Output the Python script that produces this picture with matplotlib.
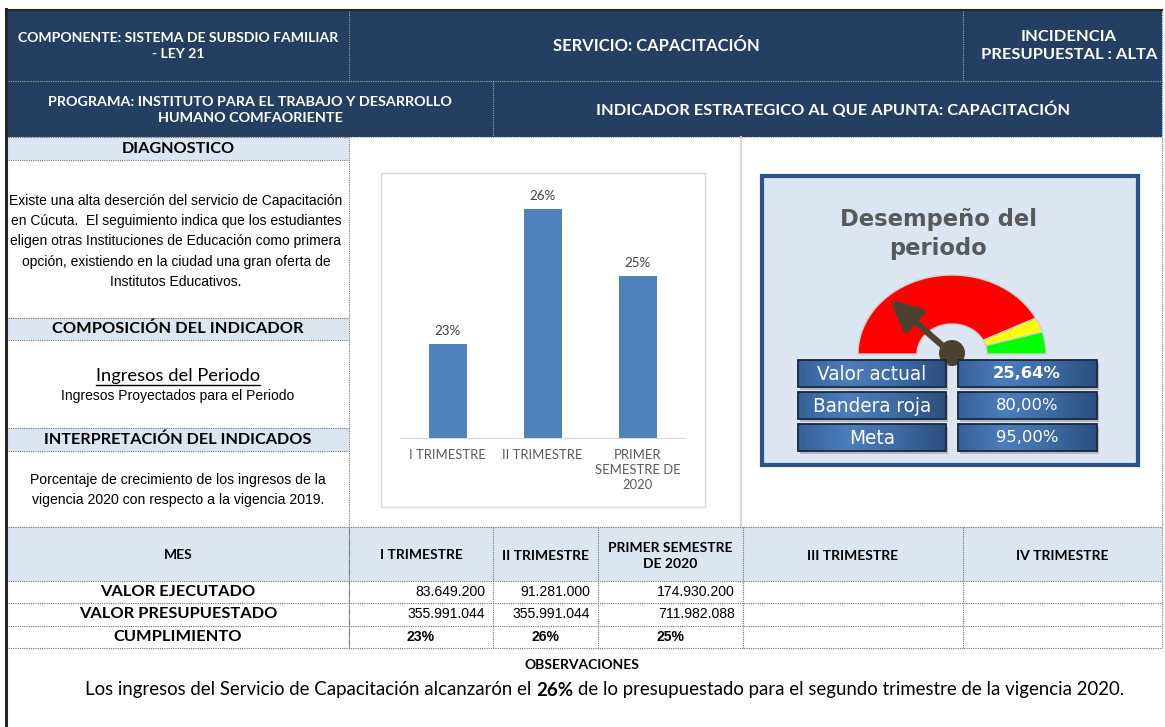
import matplotlib
matplotlib.use("Agg")
import matplotlib.pyplot as plt
import numpy as np
from matplotlib.patches import Rectangle, Polygon, Circle
from matplotlib.colors import LinearSegmentedColormap

W, H = 1165, 727

# ---- data read from the sheet ----
periodos = ["I TRIMESTRE", "II TRIMESTRE", "PRIMER SEMESTRE\nDE 2020", "III TRIMESTRE", "IV TRIMESTRE"]
bar_labels = ["I TRIMESTRE", "II TRIMESTRE", "PRIMER\nSEMESTRE DE\n2020"]
valor_ejecutado = [83649200, 91281000, 174930200]
valor_presupuestado = [355991044, 355991044, 711982088]
cumplimiento = [0.23498, 0.25641, 0.24570]

valor_actual = 0.2564
bandera_roja = 0.80
meta = 0.95
gauge_edges = [0.0, 0.85, 0.91, 1.0]
gauge_colors = ["#FF0000", "#FFFF00", "#00FF00"]

diagnostico = [
    "Existe una alta deserción del servicio de Capacitación",
    "en Cúcuta.  El seguimiento indica que los estudiantes",
    "eligen otras Instituciones de Educación como primera",
    "opción, existiendo en la ciudad una gran oferta de",
    "Institutos Educativos.",
]
interpretacion = [
    "Porcentaje de crecimiento de los ingresos de la",
    "vigencia 2020 con respecto a la vigencia 2019.",
]

NAVY = "#243F61"
LIGHT = "#DCE6F1"
CAL = "Lato"
ARIAL = "Liberation Sans"

fig = plt.figure(figsize=(W / 100, H / 100), dpi=100)
ax = fig.add_axes([0, 0, 1, 1])
ax.set_xlim(0, W)
ax.set_ylim(H, 0)
ax.axis("off")
R = fig.canvas.get_renderer()


def fit(x, y, s, width, size=10, **kw):
    kw.setdefault("ha", "center")
    kw.setdefault("va", "center")
    t = ax.text(x, y, s, fontsize=size, zorder=10, **kw)
    w = t.get_window_extent(R).width
    t.set_fontsize(size * width / w)
    return t


def dots(x0, y0, x1, y1, color="#737373", lw=0.8):
    ax.plot([x0, x1], [y0, y1], color=color, lw=lw, ls=(0, (1, 1)), zorder=3)


def pct(v):
    return f"{v * 100:.2f}%".replace(".", ",")


def miles(v):
    return f"{v:,}".replace(",", ".")


def rich(xc, y, parts, width, size=11, **kw):
    ts = [ax.text(0, y, s, fontsize=size, weight=wt, ha="left", va="center", **kw)
          for s, wt in parts]
    probe1 = ax.text(0, 0, "a a", fontsize=size, **kw)
    probe2 = ax.text(0, 0, "aa", fontsize=size, **kw)

    def measure():
        ws = [t.get_window_extent(R).width for t in ts]
        gap = probe1.get_window_extent(R).width - probe2.get_window_extent(R).width
        return ws, gap

    ws, gap = measure()
    scale = width / (sum(ws) + gap * (len(ts) - 1))
    for t in ts + [probe1, probe2]:
        t.set_fontsize(size * scale)
    ws, gap = measure()
    probe1.remove()
    probe2.remove()
    x = xc - (sum(ws) + gap * (len(ts) - 1)) / 2
    for t, w in zip(ts, ws):
        t.set_x(x)
        x += w + gap


# ---- header ----
ax.add_patch(Rectangle((6, 10), 1156, 127, fc=NAVY, ec="none", zorder=1))
dots(6, 81, 1162, 81, color="#A6A6A6")
dots(349, 10, 349, 81, color="#A6A6A6")
dots(963, 10, 963, 81, color="#A6A6A6")
dots(493, 81, 493, 137, color="#A6A6A6")
dots(6, 137, 1162, 137, color="#A6A6A6")

hdr = dict(color="white", weight="bold", family=CAL)
fit(178, 46, "COMPONENTE: SISTEMA DE SUBSDIO FAMILIAR\n- LEY 21", 322, linespacing=1.3, **hdr)
fit(656, 46, "SERVICIO: CAPACITACIÓN", 206, **hdr)
fit(1069, 46, "INCIDENCIA\nPRESUPUESTAL : ALTA", 176, linespacing=1.3, **hdr)
fit(250, 110, "PROGRAMA: INSTITUTO PARA EL TRABAJO Y DESARROLLO\nHUMANO COMFAORIENTE", 407,
    linespacing=1.3, **hdr)
fit(833, 110, "INDICADOR ESTRATEGICO AL QUE APUNTA: CAPACITACIÓN", 473, **hdr)

# ---- left panel ----
for y0, y1 in [(137, 160), (318, 340), (428, 451)]:
    ax.add_patch(Rectangle((6, y0), 343, y1 - y0, fc=LIGHT, ec="none", zorder=1))
    dots(6, y0, 349, y0)
    dots(6, y1, 349, y1)

sec = dict(color="black", weight="bold", family=CAL)
fit(178, 149, "DIAGNOSTICO", 113, **sec)
fit(178, 329, "COMPOSICIÓN DEL INDICADOR", 250, **sec)
fit(178, 440, "INTERPRETACIÓN DEL INDICADOS", 267, **sec)

t = fit(176, 201, diagnostico[0], 332, family=ARIAL, color="black")
fs = t.get_fontsize()
for i, line in enumerate(diagnostico[1:], start=1):
    ax.text(176, 201 + 20.2 * i, line, fontsize=fs, family=ARIAL, color="black",
            ha="center", va="center")

t = fit(178, 376, "Ingresos del Periodo", 165, family=CAL, color="black")
bb = t.get_window_extent(R)
ax.plot([bb.x0, bb.x1], [385, 385], color="black", lw=1, zorder=10)
fit(178, 396, "Ingresos Proyectados para el Periodo", 233, family=ARIAL, color="black")

t = fit(178, 480, interpretacion[1], 292, family=ARIAL, color="black")
fs = t.get_fontsize()
ax.text(178, 500, interpretacion[1], fontsize=fs, family=ARIAL, color="black",
        ha="center", va="center")
t.set_text(interpretacion[0])

# ---- frame lines ----
dots(349, 137, 349, 648)
ax.plot([741, 741], [137, 527], color="#D9D9D9", lw=1.5, zorder=2)
dots(1162, 10, 1162, 648)

# ---- bar chart ----
ax.add_patch(Rectangle((381, 173), 324, 334, fc="white", ec="#D9D9D9", lw=1, zorder=1))
bx = fig.add_axes([400 / W, 1 - 438 / H, 285 / W, 252 / H])
bars = bx.bar(range(len(cumplimiento)), cumplimiento, width=0.4, color="#4F81BD")
bx.set_ylim(0.22, 0.26)
bx.set_xlim(-0.5, 2.5)
bx.bar_label(bars, labels=[f"{v:.0%}" for v in cumplimiento], padding=5,
             fontsize=9.6, color="#404040", family=CAL)
bx.set_xticks(range(len(bar_labels)), bar_labels)
bx.tick_params(axis="x", length=0, pad=8, labelsize=9.4, labelcolor="#595959")
for lab in bx.get_xticklabels():
    lab.set_family(CAL)
    lab.set_linespacing(1.3)
    lab.set_verticalalignment("top")
bx.set_yticks([])
for s in ["top", "left", "right"]:
    bx.spines[s].set_visible(False)
bx.spines["bottom"].set_color("#D9D9D9")
bx.patch.set_alpha(0)

# ---- gauge panel ----
ax.add_patch(Rectangle((762, 176), 376, 289, fc="#DCE6F2", ec="#2A5389", lw=3, zorder=1))
fit(938, 234, "Desempeño del\nperiodo", 197, family="DejaVu Sans", weight="bold",
    color="#595959", linespacing=1.3)

cx, cy = 952, 354
rx_o, ry_o, rx_i, ry_i = 94, 79, 35, 30


def ring(v0, v1):
    a = np.linspace(np.pi * (1 - v0), np.pi * (1 - v1), 80)
    outer = np.c_[cx + rx_o * np.cos(a), cy - ry_o * np.sin(a)]
    inner = np.c_[cx + rx_i * np.cos(a[::-1]), cy - ry_i * np.sin(a[::-1])]
    return np.vstack([outer, inner])


for v0, v1, c in zip(gauge_edges[:-1], gauge_edges[1:], gauge_colors):
    ax.add_patch(Polygon(ring(v0, v1), closed=True, fc=c, ec="#D0D0D0", lw=1, zorder=3))

NEEDLE = "#4B4330"
ang = np.pi * (1 - valor_actual)
tip = (cx + 0.96 * rx_o * np.cos(ang), cy - 0.96 * ry_o * np.sin(ang))
ax.annotate("", xy=tip, xytext=(cx, cy), zorder=4,
            arrowprops=dict(arrowstyle="-|>,head_length=0.8,head_width=0.38", lw=4.5,
                            color=NEEDLE, mutation_scale=23, shrinkA=0, shrinkB=0))
ax.add_patch(Circle((cx, cy - 1), 13, fc=NEEDLE, ec="none", zorder=4))

box_cmap = LinearSegmentedColormap.from_list("box", ["#35609A", "#4C7EBC", "#3D6BA4", "#2B4E7E"])
grad = np.linspace(0, 1, 256)[None, :]
rows_y = [360, 392, 424]
left_txt = ["Valor actual", "Bandera roja", "Meta"]
right_txt = [pct(valor_actual), pct(bandera_roja), pct(meta)]
for y0 in rows_y:
    for x0, x1 in [(798, 946), (958, 1097)]:
        ax.add_patch(Rectangle((x0 + 2, y0 + 3), x1 - x0, 27, fc="#8E9BAD", ec="none",
                               alpha=0.6, zorder=5))
        ax.imshow(grad, extent=(x0, x1, y0 + 27, y0), cmap=box_cmap, aspect="auto", zorder=6)
        ax.add_patch(Rectangle((x0, y0), x1 - x0, 27, fc="none", ec="#1B2738", lw=1.3, zorder=7))
ax.set_xlim(0, W)
ax.set_ylim(H, 0)

t = fit(872, rows_y[1] + 14, left_txt[1], 120, family="DejaVu Sans", color="white")
fs = t.get_fontsize()
for y0, s in zip([rows_y[0], rows_y[2]], [left_txt[0], left_txt[2]]):
    ax.text(872, y0 + 14, s, fontsize=fs, family="DejaVu Sans", color="white",
            ha="center", va="center", zorder=10)
t = fit(1027, rows_y[1] + 14, right_txt[1], 62, family="DejaVu Sans", color="white")
fs = t.get_fontsize()
ax.text(1027, rows_y[0] + 14, right_txt[0], fontsize=fs, family="DejaVu Sans", weight="bold",
        color="white", ha="center", va="center", zorder=10)
ax.text(1027, rows_y[2] + 14, right_txt[2], fontsize=fs, family="DejaVu Sans",
        color="white", ha="center", va="center", zorder=10)

# ---- table ----
ax.add_patch(Rectangle((6, 527), 1156, 54, fc=LIGHT, ec="none", zorder=1))
for y in [527, 581, 603, 626, 648]:
    dots(6, y, 1162, y)
col_edges = [349, 493, 598, 743, 963, 1162]
for x in col_edges[:-1]:
    dots(x, 527, x, 648)

t = fit(421, 555, periodos[0], 83, family=CAL, weight="bold", color="black")
fs = t.get_fontsize()
ax.text(178, 555, "MES", fontsize=fs, family=CAL, weight="bold", ha="center", va="center")
for i, p in enumerate(periodos[1:], start=1):
    xc = (col_edges[i] + col_edges[i + 1]) / 2
    ax.text(xc, 556, p, fontsize=fs, family=CAL, weight="bold", ha="center", va="center",
            linespacing=1.45)

row_y = [592, 614.5, 637]
t = fit(178, row_y[1], "VALOR PRESUPUESTADO", 197, family=CAL, weight="bold", color="black")
fs = t.get_fontsize()
ax.text(178, row_y[0], "VALOR EJECUTADO", fontsize=fs, family=CAL, weight="bold",
        ha="center", va="center")
ax.text(178, row_y[2], "CUMPLIMIENTO", fontsize=fs, family=CAL, weight="bold",
        ha="center", va="center")

t = fit(485, row_y[0], miles(valor_ejecutado[0]), 70, family=ARIAL, color="black", ha="right")
fs = t.get_fontsize()
for i in range(len(valor_ejecutado)):
    xr = col_edges[i + 1] - 8
    xc = (col_edges[i] + col_edges[i + 1]) / 2
    if i > 0:
        ax.text(xr, row_y[0], miles(valor_ejecutado[i]), fontsize=fs, family=ARIAL,
                ha="right", va="center")
    ax.text(xr, row_y[1], miles(valor_presupuestado[i]), fontsize=fs, family=ARIAL,
            ha="right", va="center")
    ax.text(xc, row_y[2], f"{cumplimiento[i]:.0%}", fontsize=fs, family=ARIAL, weight="bold",
            ha="center", va="center")

# ---- observaciones ----
fit(582, 665, "OBSERVACIONES", 115, family=CAL, weight="bold", color="black")
rich(605, 690, [("Los ingresos del Servicio de Capacitación alcanzarón el", "normal"),
                (f"{cumplimiento[1]:.0%}", "bold"),
                ("de lo presupuestado para el segundo trimestre de la vigencia 2020.", "normal")],
     1040, family=CAL, color="black")

# ---- outer border ----
ax.plot([6, 6], [9, H], color="#262626", lw=2.2, zorder=11)
ax.plot([6, 1162], [10, 10], color="#262626", lw=1.5, zorder=11)

fig.savefig("out.png", dpi=100)
